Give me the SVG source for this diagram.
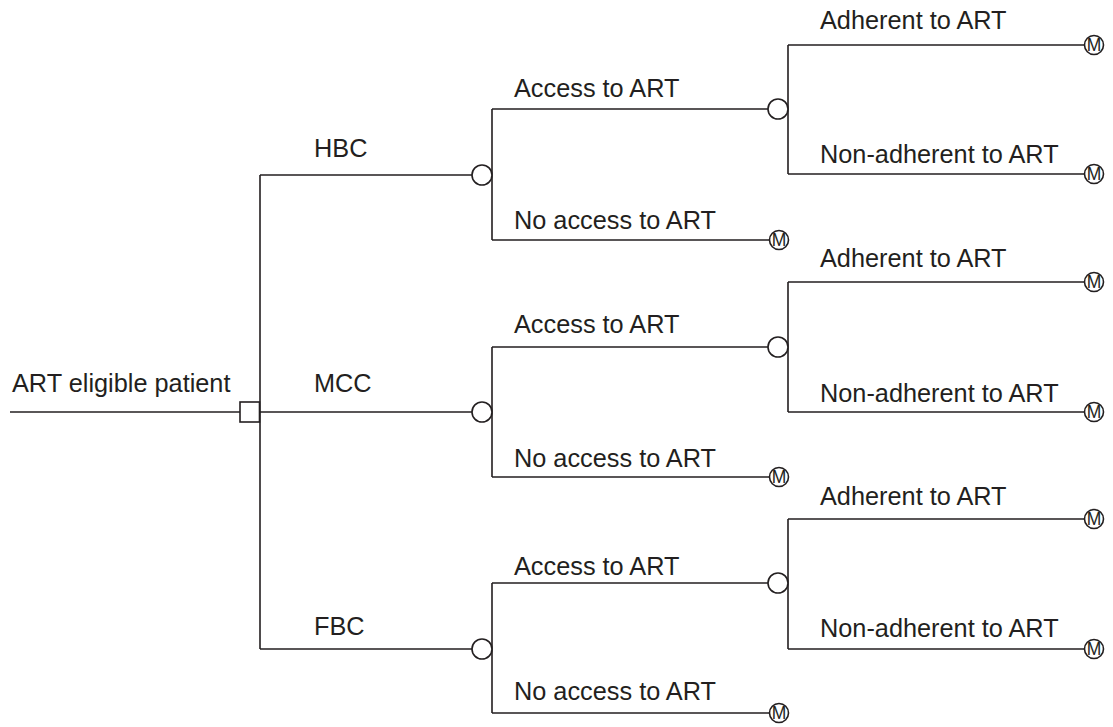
<svg xmlns="http://www.w3.org/2000/svg" width="1113" height="727" viewBox="0 0 1113 727">
<style>
.ln{fill:none;stroke:#231f20;stroke-width:1.6}
.nd{fill:#fff;stroke:#231f20;stroke-width:1.6}
.lb{font-family:"Liberation Sans",Arial,sans-serif;font-size:25.3px;fill:#231f20}
.m{font-family:"Liberation Sans",Arial,sans-serif;font-size:17.5px;fill:#231f20;text-anchor:middle}
</style>
<defs>
<g id="term"><circle class="nd" cx="0" cy="0" r="9.5"/><text class="m" x="0" y="6.3">M</text></g>
</defs>
<g id="connectors">
<path class="ln" d="M10 412H250"/>
<path class="ln" d="M260 175V649"/>
<path class="ln" d="M260 175H472M260 412H472M260 649H472"/>
<path class="ln" d="M492 109V240M492 109H768M492 240H769"/>
<path class="ln" d="M492 347V477M492 347H768M492 477H769"/>
<path class="ln" d="M492 583V713M492 583H768M492 713H769"/>
<path class="ln" d="M788 45V174M788 45H1084M788 174H1084"/>
<path class="ln" d="M788 282V412M788 282H1084M788 412H1084"/>
<path class="ln" d="M788 519V649M788 519H1084M788 649H1084"/>
</g>
<g id="root"><rect class="nd" x="240" y="402" width="19.5" height="20"/><text class="lb" x="12" y="392">ART eligible patient</text></g>
<g id="hbc"><circle class="nd" cx="482" cy="175" r="10"/><text class="lb" x="314" y="157">HBC</text></g>
<g id="mcc"><circle class="nd" cx="482" cy="412" r="10"/><text class="lb" x="314" y="392">MCC</text></g>
<g id="fbc"><circle class="nd" cx="482" cy="649" r="10"/><text class="lb" x="314" y="635">FBC</text></g>
<g id="hbc-access"><circle class="nd" cx="778" cy="109" r="10"/><text class="lb" x="514" y="97">Access to ART</text></g>
<g id="hbc-noaccess"><use href="#term" x="779" y="240"/><text class="lb" x="514" y="229">No access to ART</text></g>
<g id="hbc-adh"><use href="#term" x="1094" y="45"/><text class="lb" x="820" y="29">Adherent to ART</text></g>
<g id="hbc-nonadh"><use href="#term" x="1094" y="174"/><text class="lb" x="820" y="163">Non-adherent to ART</text></g>
<g id="mcc-access"><circle class="nd" cx="778" cy="347" r="10"/><text class="lb" x="514" y="333">Access to ART</text></g>
<g id="mcc-noaccess"><use href="#term" x="779" y="477"/><text class="lb" x="514" y="467">No access to ART</text></g>
<g id="mcc-adh"><use href="#term" x="1094" y="282"/><text class="lb" x="820" y="267">Adherent to ART</text></g>
<g id="mcc-nonadh"><use href="#term" x="1094" y="412"/><text class="lb" x="820" y="402">Non-adherent to ART</text></g>
<g id="fbc-access"><circle class="nd" cx="778" cy="583" r="10"/><text class="lb" x="514" y="575">Access to ART</text></g>
<g id="fbc-noaccess"><use href="#term" x="779" y="713"/><text class="lb" x="514" y="700">No access to ART</text></g>
<g id="fbc-adh"><use href="#term" x="1094" y="519"/><text class="lb" x="820" y="505">Adherent to ART</text></g>
<g id="fbc-nonadh"><use href="#term" x="1094" y="649"/><text class="lb" x="820" y="637">Non-adherent to ART</text></g>
</svg>
